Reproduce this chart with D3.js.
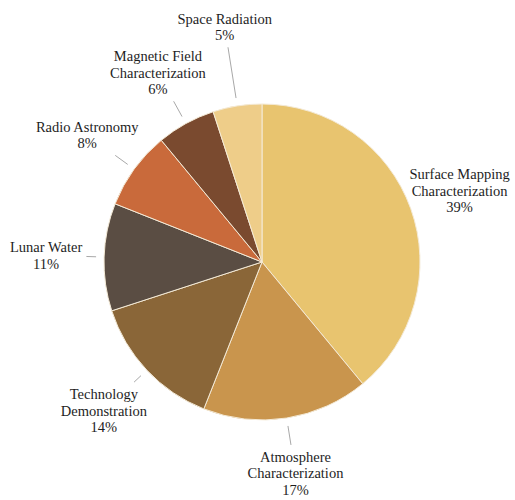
<!DOCTYPE html>
<html>
<head>
<meta charset="utf-8">
<script src="https://cdn.jsdelivr.net/npm/d3@7"></script>
<style>
  html, body { margin: 0; padding: 0; background: #fff; }
  svg { display: block; }
</style>
</head>
<body>
<svg id="chart" width="515" height="500"></svg>
<script>
// Mission focus areas, clockwise from 12 o'clock
const categories = [
  "Surface Mapping Characterization",
  "Atmosphere Characterization",
  "Technology Demonstration",
  "Lunar Water",
  "Radio Astronomy",
  "Magnetic Field Characterization",
  "Space Radiation"
];
const shares = [39, 17, 14, 11, 8, 6, 5];
const labelLines = [
  ["Surface Mapping", "Characterization"],
  ["Atmosphere", "Characterization"],
  ["Technology", "Demonstration"],
  ["Lunar Water"],
  ["Radio Astronomy"],
  ["Magnetic Field", "Characterization"],
  ["Space Radiation"]
];
const sliceColors = ["#E8C46F", "#C9954D", "#8A6638", "#5A4D43", "#C96A3B", "#7A4A2F", "#EECD89"];

// Layout
const cx = 262, cy = 262, radius = 158;
const labelRadius = [210, 214, 217, 216, 216, 216, 238];
const lineHeight = 16.5;
const leaderStart = 166, leaderGap = 4;
const fontStack = "'Liberation Serif', Tinos, 'Times New Roman', Times, 'DejaVu Serif', serif";

const svg = d3.select("#chart");
const g = svg.append("g").attr("transform", `translate(${cx},${cy})`);

const data = categories.map((c, i) => ({ name: c, value: shares[i], lines: labelLines[i], color: sliceColors[i], lr: labelRadius[i] }));

const pie = d3.pie().value(d => d.value).sort(null);
const arc = d3.arc().innerRadius(0).outerRadius(radius);
const arcs = pie(data);

g.selectAll("path.slice")
  .data(arcs)
  .enter().append("path")
  .attr("class", "slice")
  .attr("d", arc)
  .attr("fill", d => d.data.color)
  .attr("stroke", "#f4ead6")
  .attr("stroke-width", 1);

const mid = d => (d.startAngle + d.endAngle) / 2;

const labels = g.selectAll("g.label")
  .data(arcs)
  .enter().append("g")
  .attr("class", "label")
  .each(function(d) {
    const a = mid(d);
    const x = Math.sin(a) * d.data.lr;
    const y = -Math.cos(a) * d.data.lr;
    const lines = d.data.lines.concat([d.data.value + "%"]);
    const t = d3.select(this).append("text")
      .attr("text-anchor", "middle")
      .attr("font-family", fontStack)
      .attr("font-size", 14.5)
      .attr("fill", "#1e1e1e");
    const top = y - (lines.length * lineHeight) / 2;
    lines.forEach((ln, k) => {
      t.append("tspan")
        .attr("x", x)
        .attr("y", top + k * lineHeight + lineHeight / 2)
        .attr("dy", "0.35em")
        .text(ln);
    });
  });

// Leader lines run along each slice's mid-angle up to its label's box
labels.each(function(d) {
  const bb = d3.select(this).select("text").node().getBBox();
  const x0 = bb.x - leaderGap, x1 = bb.x + bb.width + leaderGap;
  const y0 = bb.y - leaderGap, y1 = bb.y + bb.height + leaderGap;
  const a = mid(d);
  const dx = Math.sin(a), dy = -Math.cos(a);
  // first hit of the ray with the padded box
  const cands = [];
  if (Math.abs(dx) > 1e-6) { cands.push((dx > 0 ? x0 : x1) / dx); }
  if (Math.abs(dy) > 1e-6) { cands.push((dy > 0 ? y0 : y1) / dy); }
  const tEnter = Math.max(...cands);
  if (tEnter > leaderStart + 2) {
    g.insert("line", "g.label")
      .attr("x1", dx * leaderStart).attr("y1", dy * leaderStart)
      .attr("x2", dx * tEnter).attr("y2", dy * tEnter)
      .attr("stroke", "#a8a8a8")
      .attr("stroke-width", 1);
  }
});
</script>
</body>
</html>
